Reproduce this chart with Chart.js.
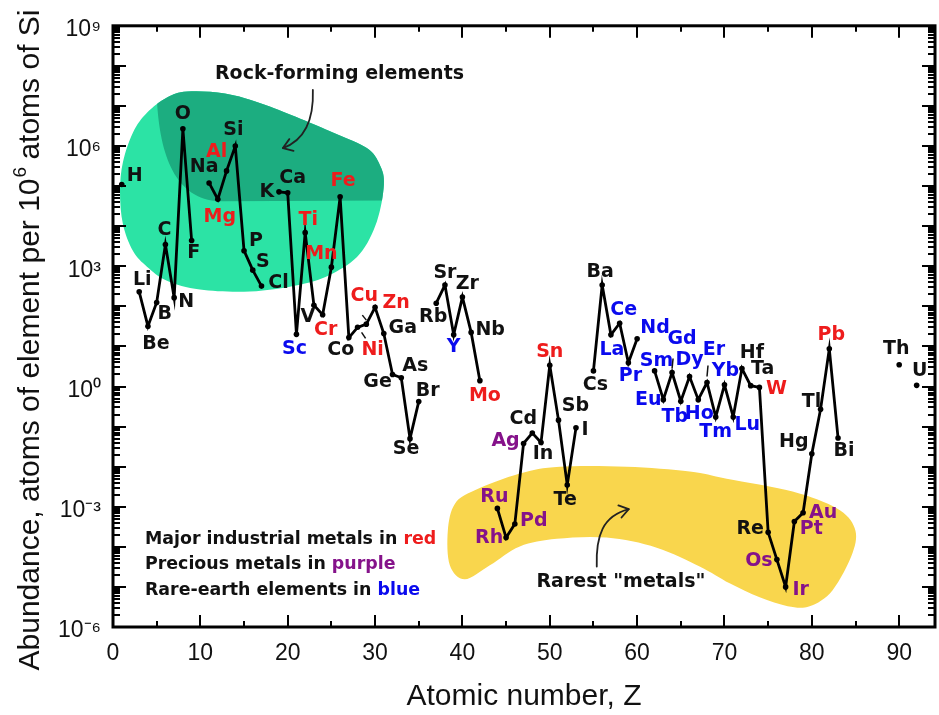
<!DOCTYPE html>
<html><head><meta charset="utf-8">
<script src="https://cdn.jsdelivr.net/npm/chart.js@4.4.1/dist/chart.umd.min.js"></script>
<style>html,body{margin:0;padding:0;background:#fff;}#wrap{width:939px;height:715px;}</style>
</head><body><div id="wrap"><canvas id="c" width="939" height="715"></canvas></div>
<script>
// ---------------- data ----------------
const symbols = ['H','Li','Be','B','C','N','O','F','Na','Mg','Al','Si','P','S','Cl','K','Ca','Sc','Ti','V','Cr','Mn','Fe','Co','Ni','Cu','Zn','Ga','Ge','As','Se','Br','Rb','Sr','Y','Zr','Nb','Mo','Ru','Rh','Pd','Ag','Cd','In','Sn','Sb','Te','I','Cs','Ba','La','Ce','Pr','Nd','Sm','Eu','Gd','Tb','Dy','Ho','Er','Tm','Yb','Lu','Hf','Ta','W','Re','Os','Ir','Pt','Au','Hg','Tl','Pb','Bi','Th','U'];
const atomicNumbers = [1,3,4,5,6,7,8,9,11,12,13,14,15,16,17,19,20,21,22,23,24,25,26,27,28,29,30,31,32,33,34,35,37,38,39,40,41,42,44,45,46,47,48,49,50,51,52,53,55,56,57,58,59,60,62,63,64,65,66,67,68,69,70,71,72,73,74,75,76,77,78,79,80,81,82,83,90,92];
const abundance = [1.1e5,230,32,125,3500,165,2.7e6,4400,1.2e5,4.7e4,2.4e5,1e6,2450,800,320,7.2e4,6.8e4,20,6900,107,62,950,5.4e4,16.6,30,36,95,21,2.0,1.66,0.05,0.42,120,340,19.5,170,22.4,1.4,9.1e-4,1.7e-4,3.7e-4,0.038,0.069,0.040,3.4,0.145,0.0035,0.093,2.45,340,19.5,38,3.9,15.5,2.45,0.47,2.24,0.43,1.78,0.47,1.26,0.174,1.1,0.174,2.8,1.05,0.95,2.3e-4,4.8e-5,1.0e-5,4.3e-4,7.1e-4,0.021,0.27,8.7,0.052,3.5,1.07];
const industrialMetals = ['Mg','Al','Ti','Cr','Mn','Fe','Ni','Cu','Zn','Mo','Sn','W','Pb'];
const preciousMetals = ['Ru','Rh','Pd','Ag','Os','Ir','Pt','Au'];
const rareEarths = ['Sc','Y','La','Ce','Pr','Nd','Sm','Eu','Gd','Tb','Dy','Ho','Er','Tm','Yb','Lu'];
const xTickValues = [0,10,20,30,40,50,60,70,80,90];
const yTickExponents = [-6,-3,0,3,6,9];

// ---------------- layout / style (not data) ----------------
const COLORS = {red:'#ee1c1c', purple:'#85128a', blue:'#0a0aee', black:'#111'};
const labelOffset = {H:[13,-8],Li:[3,-12],Be:[8,18],B:[8,12],C:[-1,-14],N:[12,4],O:[0,-15],F:[2,13],Na:[-5,-16],Mg:[2,18],Al:[-10,-19],Si:[-2,-16],P:[12,-10],S:[10,-8],Cl:[17,-3],K:[-12,0],Ca:[5,-15],Sc:[-2,15],Ti:[3,-13],V:[-6,12],Cr:[3,15],Mn:[-10,-13],Fe:[3,-16],Co:[-8,12],Ni:[15,23],Cu:[-2,-28],Zn:[21,-4],Ga:[19,-5],Ge:[-15,8],As:[14,-12],Se:[-4,10],Br:[9,-11],Rb:[-3,14],Sr:[0,-12],Y:[0,12],Zr:[5,-13],Nb:[19,-2],Mo:[5,15],Ru:[-3,-11],Rh:[-17,0],Pd:[19,-3],Ag:[-18,-2],Cd:[-9,-14],In:[2,12],Sn:[0,-13],Sb:[17,-14],Te:[-2,15],I:[9,2],Cs:[2,14],Ba:[-2,-13],La:[1,15],Ce:[4,-13],Pr:[2,13],Nd:[18,-11],Sm:[2,-10],Eu:[-15,0],Gd:[10,-33],Tb:[-6,16],Dy:[0,-16],Ho:[1,14],Er:[7,-32],Tm:[0,15],Yb:[1,-14],Lu:[14,8],Hf:[10,-16],Ta:[12,-17],W:[17,2],Re:[-18,-3],Os:[-18,1],Ir:[15,3],Pt:[17,8],Au:[20,0],Hg:[-18,-12],Tl:[-9,-7],Pb:[2,-14],Bi:[6,13],Th:[-3,-16],U:[3,-14]};
const leaders = {Gd:[[1,-14],[0,-4]],Er:[[1,-17],[0,-6]],Cu:[[-4,-9],[0,-4]],Ni:[[4,5],[8,11]]};
// annotation shapes in data units: [Z, log10(abundance)]
const rockBlob = [[0.8,4.86],[1.14,5.6],[2.29,6.34],[3.89,6.83],[6.18,7.21],[8.47,7.36],[12.81,7.31],[17.62,7.01],[25.17,6.34],[29.06,5.95],[30.55,5.53],[31.01,5.04],[30.21,4.12],[28.26,3.31],[25.17,2.82],[21.4,2.54],[15.68,2.37],[9.95,2.42],[6.18,2.64],[3.89,2.99],[2.29,3.38],[1.14,4.05]];
const rockDark = {start:[4.23,8.49],p1:[5.03,7.13],c1:[5.38,5.78],c2:[7.09,4.67],p2:[12.24,4.62],p3:[32.84,4.64],p4:[32.84,8.49]};
const rareBlob = [[38.33,-3.6],[39.13,-2.93],[41.42,-2.59],[46.57,-2.17],[51.14,-2.0],[58.81,-2.0],[66.02,-2.12],[70.25,-2.3],[77.8,-2.62],[82.84,-3.04],[84.9,-3.53],[84.67,-4.15],[82.38,-5.08],[79.75,-5.48],[77.23,-5.48],[74.03,-5.26],[70.59,-4.91],[67.16,-4.49],[62.24,-4.02],[56.52,-3.77],[50.8,-3.8],[46.57,-3.99],[43.14,-4.46],[40.27,-4.81],[38.56,-4.46]];
const rockArrow = [[22.88,7.4],[23.0,6.64],[21.97,6.15],[19.45,5.95]];
const rareArrow = [[55.38,-4.49],[55.26,-3.72],[56.06,-3.23],[59.04,-3.06]];
const notes = [
  {pos:[11.67,7.80], size:19, parts:[['Rock-forming elements',COLORS.black]]},
  {pos:[48.48,-4.88], size:19, parts:[['Rarest "metals"',COLORS.black]]},
  {pos:[3.66,-3.81], size:17.4, parts:[['Major industrial metals in ',COLORS.black],['red',COLORS.red]]},
  {pos:[3.66,-4.44], size:17.4, parts:[['Precious metals in ',COLORS.black],['purple',COLORS.purple]]},
  {pos:[3.66,-5.08], size:17.4, parts:[['Rare-earth elements in ',COLORS.black],['blue',COLORS.blue]]}
];
const TEXT_FAMILY = '"DejaVu Sans", Verdana, sans-serif';
const LABEL_FONT = 'bold 19px ' + TEXT_FAMILY;
const AXIS_FAMILY = '"Liberation Sans", Arial, sans-serif';

// ---------------- build line data with gaps for missing elements ----------------
const points = [];
for (let z = 1; z <= 92; z++) {
  const i = atomicNumbers.indexOf(z);
  points.push({x: z, y: i >= 0 ? abundance[i] : null});
}
function colorOf(s){
  if (industrialMetals.includes(s)) return COLORS.red;
  if (preciousMetals.includes(s)) return COLORS.purple;
  if (rareEarths.includes(s)) return COLORS.blue;
  return COLORS.black;
}
const SUP = {'-':'\u207B','0':'\u2070','3':'\u00B3','6':'\u2076','9':'\u2079'};
const supStr = n => String(n).split('').map(c=>SUP[c]).join('');

function P(chart, z, e){ return [chart.scales.x.getPixelForValue(z), chart.scales.y.getPixelForValue(Math.pow(10,e))]; }
function smoothClosed(ctx, pts){
  const n = pts.length;
  ctx.moveTo(pts[0][0], pts[0][1]);
  for (let i=0;i<n;i++){
    const p0=pts[(i-1+n)%n], p1=pts[i], p2=pts[(i+1)%n], p3=pts[(i+2)%n];
    ctx.bezierCurveTo(p1[0]+(p2[0]-p0[0])/6, p1[1]+(p2[1]-p0[1])/6, p2[0]-(p3[0]-p1[0])/6, p2[1]-(p3[1]-p1[1])/6, p2[0], p2[1]);
  }
  ctx.closePath();
}
function drawArrow(chart, ctx, a){
  const p = a.map(q=>P(chart,q[0],q[1]));
  ctx.save();
  ctx.strokeStyle='#222'; ctx.lineWidth=1.8; ctx.lineCap='round';
  ctx.beginPath(); ctx.moveTo(p[0][0],p[0][1]);
  ctx.bezierCurveTo(p[1][0],p[1][1],p[2][0],p[2][1],p[3][0],p[3][1]); ctx.stroke();
  const ang = Math.atan2(p[3][1]-p[2][1], p[3][0]-p[2][0]);
  ctx.beginPath();
  for (const s of [-1,1]){
    const b = ang + Math.PI + s*0.6;
    ctx.moveTo(p[3][0],p[3][1]); ctx.lineTo(p[3][0]+11*Math.cos(b), p[3][1]+11*Math.sin(b));
  }
  ctx.stroke(); ctx.restore();
}

const decor = {
  id:'decor',
  beforeDatasetsDraw(chart){
    const ctx = chart.ctx; ctx.save();
    const rb = rockBlob.map(q=>P(chart,q[0],q[1]));
    ctx.beginPath(); smoothClosed(ctx, rb); ctx.fillStyle='#2ce3a5'; ctx.fill();
    ctx.save(); ctx.beginPath(); smoothClosed(ctx, rb); ctx.clip();
    const d = rockDark, q = k=>P(chart,d[k][0],d[k][1]);
    ctx.beginPath(); ctx.moveTo(...q('start')); ctx.lineTo(...q('p1'));
    ctx.bezierCurveTo(...q('c1'),...q('c2'),...q('p2')); ctx.lineTo(...q('p3')); ctx.lineTo(...q('p4')); ctx.closePath();
    ctx.fillStyle='#1cad80'; ctx.fill(); ctx.restore();
    const yb = rareBlob.map(q=>P(chart,q[0],q[1]));
    ctx.beginPath(); smoothClosed(ctx, yb); ctx.fillStyle='#f9d64d'; ctx.fill();
    ctx.restore();
  },
  afterDatasetsDraw(chart){
    const ctx = chart.ctx; ctx.save();
    drawArrow(chart, ctx, rockArrow);
    drawArrow(chart, ctx, rareArrow);
    ctx.textBaseline='middle'; ctx.textAlign='left';
    for (const n of notes){
      ctx.font = 'bold ' + n.size + 'px ' + TEXT_FAMILY;
      let [x,y] = P(chart, n.pos[0], n.pos[1]);
      for (const [t,c] of n.parts){ ctx.fillStyle=c; ctx.fillText(t,x,y); x += ctx.measureText(t).width; }
    }
    ctx.font = LABEL_FONT; ctx.textAlign='center';
    symbols.forEach((s,i)=>{
      const x = chart.scales.x.getPixelForValue(atomicNumbers[i]);
      const y = chart.scales.y.getPixelForValue(abundance[i]);
      const o = labelOffset[s] || [0,-14];
      ctx.fillStyle = colorOf(s);
      ctx.fillText(s, x+o[0], y+o[1]);
      if (leaders[s]){
        const L = leaders[s];
        ctx.strokeStyle='#111'; ctx.lineWidth=1.5;
        ctx.beginPath(); ctx.moveTo(x+L[0][0],y+L[0][1]); ctx.lineTo(x+L[1][0],y+L[1][1]); ctx.stroke();
      }
    });
    ctx.restore();
  },
  afterDraw(chart){
    const ctx = chart.ctx; const {left,right,top,bottom} = chart.chartArea;
    const xs = chart.scales.x, ys = chart.scales.y;
    ctx.save(); ctx.strokeStyle='#000'; ctx.lineCap='butt';
    ctx.lineWidth = 2;
    ctx.beginPath();
    for (let e=-6; e<=9; e++){
      for (let k=1; k<=9; k++){
        if (e===9 && k>1) break;
        const y = Math.round(ys.getPixelForValue(k*Math.pow(10,e)));
        const len = k===1 ? 13 : 7;
        ctx.moveTo(left,y); ctx.lineTo(left+len,y);
        ctx.moveTo(right,y); ctx.lineTo(right-len,y);
      }
    }
    for (let z=0; z<=xs.max; z+=5){
      const x = Math.round(xs.getPixelForValue(z));
      const len = z%10===0 ? 12 : 6;
      ctx.moveTo(x,bottom); ctx.lineTo(x,bottom-len);
      ctx.moveTo(x,top); ctx.lineTo(x,top+len);
    }
    ctx.stroke();
    ctx.lineWidth = 3; ctx.strokeRect(left,top,right-left,bottom-top);
    const big = '30px '+AXIS_FAMILY, small = '19px '+AXIS_FAMILY;
    const p1='Abundance, atoms of element per 10', p2='6', p3=' atoms of Si';
    ctx.font=big; const w1=ctx.measureText(p1).width, w3=ctx.measureText(p3).width;
    ctx.font=small; const w2=ctx.measureText(p2).width;
    const total=w1+w2+w3;
    ctx.translate(39, 340+total/2); ctx.rotate(-Math.PI/2);
    ctx.fillStyle='#111'; ctx.textBaseline='alphabetic'; ctx.textAlign='left';
    ctx.font=big; ctx.fillText(p1,0,0);
    ctx.font=small; ctx.fillText(p2,w1+1,-13);
    ctx.font=big; ctx.fillText(p3,w1+w2,0);
    ctx.restore();
  }
};

new Chart(document.getElementById('c').getContext('2d'), {
  type:'line',
  data:{datasets:[{data:points, borderColor:'#000', borderWidth:2.8, pointRadius:2.8, pointBackgroundColor:'#000', pointBorderWidth:0, spanGaps:false, tension:0}]},
  options:{
    responsive:false, animation:false, devicePixelRatio:1,
    layout:{padding:{top:19,right:3,left:0,bottom:0}},
    plugins:{legend:{display:false}, tooltip:{enabled:false}},
    scales:{
      x:{type:'linear', min:0, max:94.1,
        afterBuildTicks:s=>{ s.ticks = xTickValues.map(v=>({value:v})); },
        ticks:{font:{family:AXIS_FAMILY,size:23}, color:'#111', padding:13, maxRotation:0, autoSkip:false},
        grid:{display:false, drawTicks:false}, border:{display:false},
        title:{display:true, text:'Atomic number, Z', color:'#111', font:{family:AXIS_FAMILY,size:30}, padding:{top:0,bottom:0}},
        afterFit:s=>{ s.height = 88; }},
      y:{type:'logarithmic', min:1e-6, max:1e9,
        afterBuildTicks:s=>{ s.ticks = yTickExponents.map(e=>({value:Math.pow(10,e)})); },
        ticks:{font:{family:AXIS_FAMILY,size:23}, color:'#111', padding:12, labelOffset:4, autoSkip:false,
          callback:v=>'10'+supStr(Math.round(Math.log10(v)))},
        grid:{display:false, drawTicks:false}, border:{display:false},
        afterFit:s=>{ s.width = 113; }}
    }
  },
  plugins:[decor]
});
</script></body></html>
